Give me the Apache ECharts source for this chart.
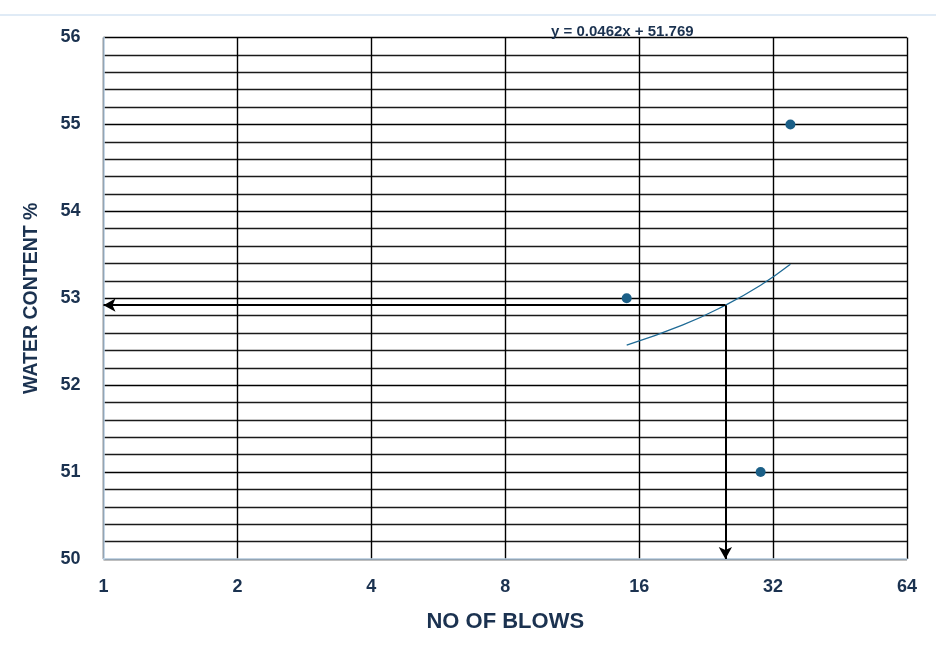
<!DOCTYPE html>
<html lang="en">
  <head>
    <meta charset="UTF-8" />
    <title>Liquid limit</title>
    <script src="https://cdn.jsdelivr.net/npm/echarts@6/dist/echarts.min.js"></script>
    <style>
      html, body { margin: 0; padding: 0; background: #fff; }
      #main { width: 936px; height: 646px; }
    </style>
  </head>
  <body>
    <div id="main"></div>
    <script>
      // test points (blows, water content %)
      var blows = [15, 35, 30];
      var waterContent = [53, 55, 51];
      // trend line
      var trendBlows = [15, 20, 25, 30, 35];
      var trendWater = [52.46, 52.69, 52.92, 53.15, 53.39];
      var equationText = "y = 0.0462x + 51.769";
      // 25-blow read-off
      var readBlows = 25;
      var readWater = 52.92;

      var textColor = "#1b3250";
      var dotColor = "#1b5f87";
      var font = "Liberation Sans";

      var chartDom = document.getElementById("main");
      var myChart = echarts.init(chartDom);
      var option;
      option = {
        animation: false,
        title: {
          text: equationText,
          left: 546,
          top: 19,
          textStyle: { fontSize: 15, fontWeight: "bold", color: textColor, fontFamily: font },
        },
        graphic: [
          {
            type: "line",
            shape: { x1: 0, y1: 15, x2: 936, y2: 15 },
            style: { stroke: "#d6e4f3", lineWidth: 1.5 },
          },
        ],
        grid: { left: 103.5, right: 29, top: 37.5, bottom: 87 },
        xAxis: {
          type: "log",
          logBase: 2,
          min: 1,
          max: 64,
          name: "NO OF BLOWS",
          nameLocation: "middle",
          nameGap: 52,
          nameTextStyle: { fontSize: 22, fontWeight: "bold", color: textColor, fontFamily: font },
          axisLine: { lineStyle: { color: "#c5dbf0", width: 1.5 } },
          axisTick: { show: false },
          axisLabel: { fontSize: 18, fontWeight: "bold", color: textColor, margin: 19, fontFamily: font },
          splitLine: { show: true, lineStyle: { color: "#000", width: 1.4 } },
        },
        yAxis: {
          type: "value",
          min: 50,
          max: 56,
          interval: 1,
          name: "WATER CONTENT %",
          nameLocation: "middle",
          nameGap: 62,
          nameTextStyle: { fontSize: 19.5, fontWeight: "bold", color: textColor, fontFamily: font },
          axisLine: { show: true, lineStyle: { color: "#c5dbf0", width: 1.5 } },
          axisTick: { show: false },
          axisLabel: { fontSize: 18, fontWeight: "bold", color: textColor, margin: 23, fontFamily: font },
          splitLine: { show: true, lineStyle: { color: "#000", width: 1.3 } },
          minorTick: { show: false, splitNumber: 5 },
          minorSplitLine: { show: true, lineStyle: { color: "#1a1a1a", width: 1.3 } },
        },
        series: [
          {
            name: "trend",
            type: "line",
            data: trendBlows.map(function (b, i) { return [b, trendWater[i]]; }),
            smooth: true,
            showSymbol: false,
            lineStyle: { color: "#1f6b96", width: 1.3 },
            z: 3,
            markLine: {
              silent: true,
              symbolSize: [10, 12],
              label: { show: false },
              lineStyle: { color: "#000", width: 2, type: "solid" },
              data: [
                [
                  { coord: [readBlows, readWater], symbol: "none" },
                  { coord: [1, readWater], symbol: "arrow" },
                ],
                [
                  { coord: [readBlows, readWater], symbol: "none" },
                  { coord: [readBlows, 50], symbol: "arrow" },
                ],
              ],
            },
          },
          {
            name: "tests",
            type: "scatter",
            data: blows.map(function (b, i) { return [b, waterContent[i]]; }),
            symbolSize: 10,
            itemStyle: { color: dotColor, opacity: 1 },
            z: 4,
          },
        ],
      };
      option && myChart.setOption(option);
    </script>
  </body>
</html>
